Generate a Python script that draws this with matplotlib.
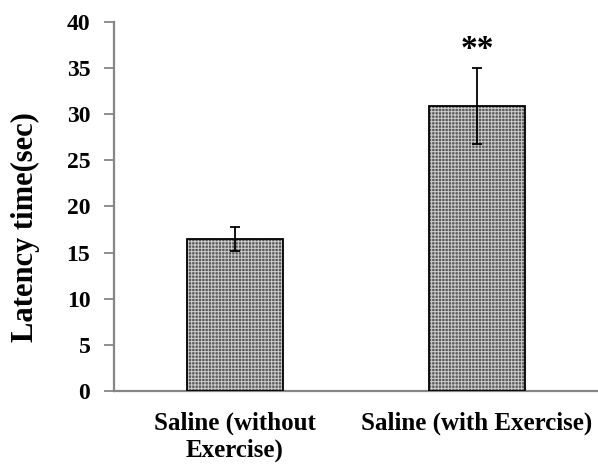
import numpy as np
import matplotlib.pyplot as plt

categories = ['Saline (without\nExercise)', 'Saline (with Exercise)']
latency = [16.5, 30.9]
sem = [1.3, 4.1]
marks = ['', '**']

plt.rcParams['font.family'] = ['Liberation Serif', 'DejaVu Serif']
plt.rcParams['font.weight'] = 'bold'
plt.rcParams['hatch.linewidth'] = 0.7

fig = plt.figure(figsize=(5.98, 4.66), dpi=100)
ax = fig.add_axes([0.1906, 0.161, 0.8094, 0.792])

x = np.arange(len(categories))
# textured fill first, then the black outline on top
ax.bar(x, latency, width=0.4, color='#5a5a5a', edgecolor='#cccccc',
       hatch='+++++', linewidth=0, zorder=2)
ax.bar(x, latency, width=0.4, fill=False, edgecolor='black',
       linewidth=1.3, zorder=3)
ax.errorbar(x, latency, yerr=sem, fmt='none', ecolor='black',
            elinewidth=1.3, capsize=3.7, capthick=1.3, zorder=4)

for xi, v, e, m in zip(x, latency, sem, marks):
    if m:
        ax.text(xi, v + e + 2.0, m, ha='center', va='center',
                fontsize=24, fontweight='bold')

ax.set_xlim(-0.5, 1.5)
ax.set_ylim(0, 40)
ax.set_yticks(np.arange(0, 41, 5))
ax.set_xticks(x)
ax.set_xticklabels(categories, fontsize=18, fontweight='bold', linespacing=1.2)
ax.tick_params(axis='x', length=0, pad=15)
ax.tick_params(axis='y', length=7, width=1.3, color='#868686',
               labelsize=17, pad=10)
for lab in ax.get_yticklabels():
    lab.set_fontweight('bold')

for s in ['top', 'right']:
    ax.spines[s].set_visible(False)
for s in ['left', 'bottom']:
    ax.spines[s].set_color('#868686')
    ax.spines[s].set_linewidth(1.6)

ax.set_ylabel('Latency time(sec)', fontsize=22, fontweight='bold')
ax.yaxis.set_label_coords(-0.153, 0.444)

fig.savefig('out.png', dpi=100)
